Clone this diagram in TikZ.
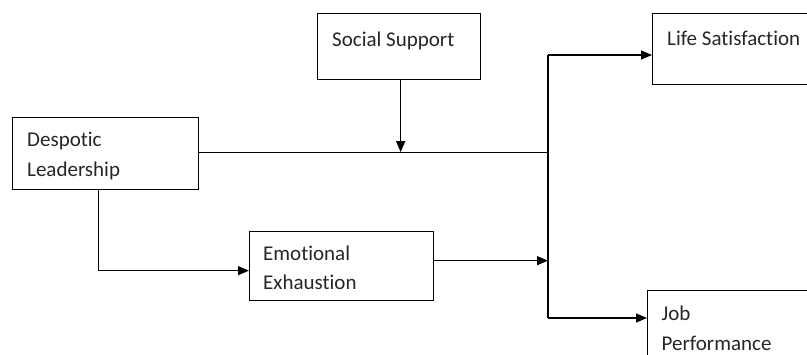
\documentclass[tikz,border=0pt]{standalone}
\usepackage{fontspec}
\setmainfont{Carlito}[Ligatures=NoCommon]
\usetikzlibrary{arrows.meta}
\begin{document}
\begin{tikzpicture}[
    x=1pt, y=-1pt,
    box/.style={
        draw,
        line width=1.3pt,
        inner sep=0pt,
        anchor=north west
    },
    txt/.style={
        anchor=north west,
        inner sep=0pt,
        align=left,
        text=black!85,
        font=\fontsize{21}{29.5}\selectfont
    },
    link/.style={line width=1.3pt},
    arr/.style={link, -{Triangle[length=11pt,width=9pt]}}
]
\useasboundingbox (0,0) rectangle (807,354);
\clip (0,0) rectangle (807,354);

% boxes
\node[box, minimum width=186, minimum height=72] (despotic) at (12,117) {};
\node[box, minimum width=163, minimum height=66] (social) at (317,13) {};
\node[box, minimum width=200, minimum height=71] (life) at (652,13) {};
\node[box, minimum width=184, minimum height=69] (exhaust) at (249,231) {};
\node[box, minimum width=200, minimum height=100] (job) at (647,290) {};

% texts
\node[txt] (despotictxt) at ([shift={(15,15)}]despotic.north west) {Despotic\\Leadership};
\node[txt] (socialtxt) at ([shift={(15,18.7)}]social.north west) {Social Support};
\node[txt] (lifetxt) at ([shift={(15,17.7)}]life.north west) {Life Satisfaction};
\node[txt] (exhausttxt) at ([shift={(14,14.3)}]exhaust.north west) {Emotional\\Exhaustion};
\node[txt] (jobtxt) at ([shift={(14.5,16)}]job.north west) {Job\\Performance};

% connectors
\coordinate (ltop) at (548,55);
\coordinate (lbot) at (548,318);
\coordinate (dlout) at ([yshift=1.5pt]despotic.east);
\coordinate (ssout) at ([xshift=1.5pt]social.south);
\draw[link] (dlout) -- (dlout -| ltop);
\draw[arr] (ssout) -- (ssout |- dlout);
\draw[link] (ltop) -- (lbot);
\draw[arr] (ltop) -- (life.west |- ltop);
\draw[arr] (lbot) -- (job.west |- lbot);
\draw[arr] ([yshift=5.5pt]exhaust.east) -- ([yshift=5.5pt]exhaust.east -| ltop);
\draw[arr] ([xshift=-7pt]despotic.south) |- ([yshift=-4.5pt]exhaust.west);

\end{tikzpicture}
\end{document}
